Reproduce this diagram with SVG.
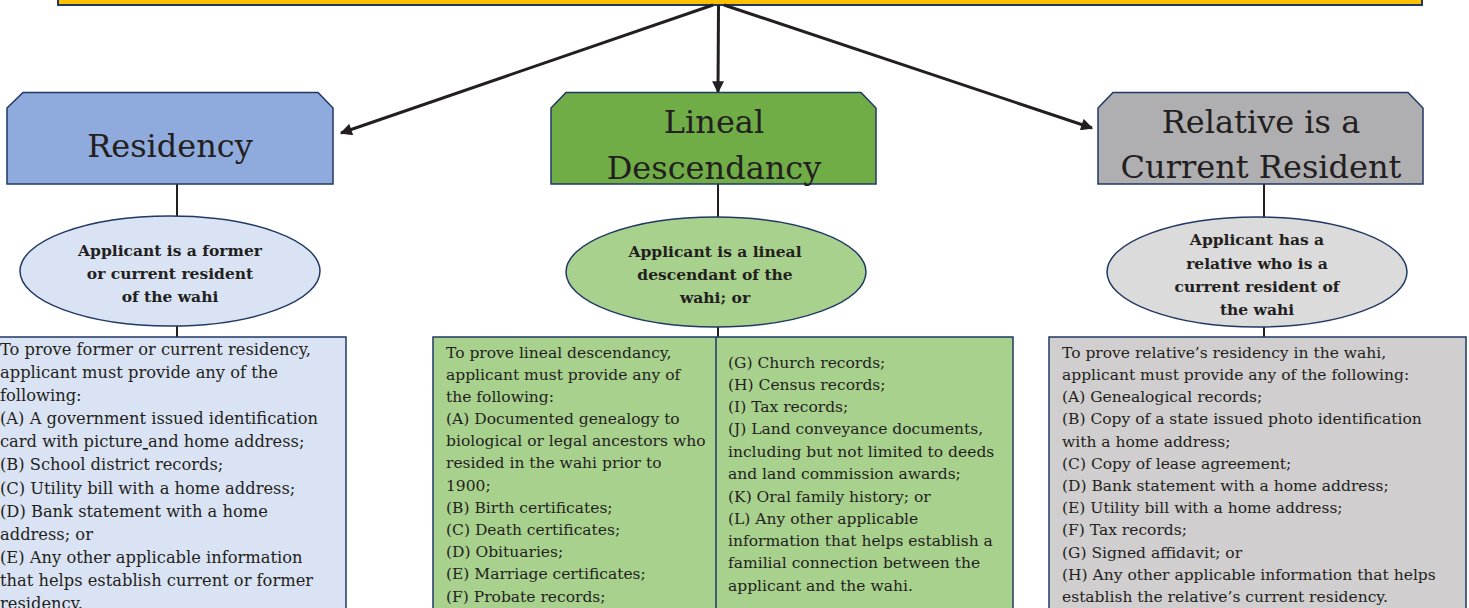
<svg xmlns="http://www.w3.org/2000/svg" width="1469" height="608" viewBox="0 0 1469 608">
<style>
.hdr{font-family:"DejaVu Serif","Liberation Serif",serif;font-size:32px;fill:#231f20;text-anchor:middle}
.ell{font-family:"DejaVu Serif","Liberation Serif",serif;font-size:15.5px;font-weight:bold;fill:#231f20;text-anchor:middle}
.body{font-family:"DejaVu Serif","Liberation Serif",serif;font-size:15.5px;fill:#231f20}
.res{font-size:16.3px}
.shape{stroke:#203864;stroke-width:1.5}
.conn{stroke:#231f20;stroke-width:2;fill:none}
.arr{stroke:#231f20;stroke-width:3;fill:none;marker-end:url(#ah)}
</style>
<defs>
<marker id="ah" viewBox="0 0 10 10" refX="9" refY="5" markerWidth="4.5" markerHeight="4" orient="auto" markerUnits="strokeWidth">
<path d="M0,0 L10,5 L0,10 z" fill="#231f20"/>
</marker>
</defs>
<rect width="1469" height="608" fill="#ffffff"/>

<g id="banner">
<rect x="58" y="-20" width="1364" height="25" fill="#ffc000" stroke="#203864" stroke-width="2"/>
</g>

<g id="connectors">
<line class="arr" x1="713" y1="5" x2="341" y2="133"/>
<line class="arr" x1="718.5" y1="5" x2="718" y2="92"/>
<line class="arr" x1="724" y1="5" x2="1092" y2="128"/>
<line class="conn" x1="177" y1="184" x2="177" y2="216"/>
<line class="conn" x1="718" y1="184" x2="718" y2="217"/>
<line class="conn" x1="1264" y1="184" x2="1264" y2="217"/>
<line class="conn" x1="177" y1="326" x2="177" y2="337"/>
<line class="conn" x1="718" y1="327" x2="718" y2="337"/>
<line class="conn" x1="1264" y1="327" x2="1264" y2="337"/>
</g>

<g id="residency-header">
<path class="shape" fill="#8faadc" d="M7,108 L23,92.5 L318,92.5 L333,108 L333,184 L7,184 Z"/>
<text class="hdr" x="170" y="157">Residency</text>
</g>

<g id="lineal-header">
<path class="shape" fill="#70ad47" d="M551,108 L566,92.5 L861,92.5 L876,108 L876,184 L551,184 Z"/>
<text class="hdr" x="714" y="133">Lineal</text>
<text class="hdr" x="714" y="179">Descendancy</text>
</g>

<g id="relative-header">
<path class="shape" fill="#afaeb1" d="M1098,108 L1113,92.5 L1408,92.5 L1423,108 L1423,184 L1098,184 Z"/>
<text class="hdr" x="1261" y="133">Relative is a</text>
<text class="hdr" x="1261" y="178">Current Resident</text>
</g>

<g id="residency-ellipse">
<ellipse class="shape" cx="170" cy="271" rx="150" ry="55" fill="#dae3f3"/>
<text class="ell" x="170" y="256">Applicant is a former</text>
<text class="ell" x="170" y="279">or current resident</text>
<text class="ell" x="170" y="302">of the wahi</text>
</g>

<g id="lineal-ellipse">
<ellipse class="shape" cx="716" cy="272" rx="150" ry="55" fill="#a9d18e"/>
<text class="ell" x="715" y="257">Applicant is a lineal</text>
<text class="ell" x="715" y="280">descendant of the</text>
<text class="ell" x="715" y="303">wahi; or</text>
</g>

<g id="relative-ellipse">
<ellipse class="shape" cx="1257" cy="272" rx="150" ry="55" fill="#dbdbdb"/>
<text class="ell" x="1257" y="245">Applicant has a</text>
<text class="ell" x="1257" y="269">relative who is a</text>
<text class="ell" x="1257" y="292">current resident of</text>
<text class="ell" x="1257" y="315">the wahi</text>
</g>

<g id="residency-details">
<rect class="shape" x="-10" y="337" width="356" height="290" fill="#dae3f3"/>
<text class="body res" x="0" y="355">To prove former or current residency,</text>
<text class="body res" x="0" y="378">applicant must provide any of the</text>
<text class="body res" x="0" y="401">following:</text>
<text class="body res" x="0" y="424">(A) A government issued identification</text>
<text class="body res" x="0" y="447">card with picture<tspan text-decoration="underline"> </tspan>and home address;</text>
<text class="body res" x="0" y="470">(B) School district records;</text>
<text class="body res" x="0" y="494">(C) Utility bill with a home address;</text>
<text class="body res" x="0" y="517">(D) Bank statement with a home</text>
<text class="body res" x="0" y="540">address; or</text>
<text class="body res" x="0" y="563">(E) Any other applicable information</text>
<text class="body res" x="0" y="586">that helps establish current or former</text>
<text class="body res" x="0" y="609">residency.</text>
</g>

<g id="lineal-details">
<rect class="shape" x="433" y="337" width="580" height="290" fill="#a9d18e"/>
<line class="shape" x1="716" y1="337" x2="716" y2="627"/>
<text class="body" x="446" y="358">To prove lineal descendancy,</text>
<text class="body" x="446" y="380">applicant must provide any of</text>
<text class="body" x="446" y="402">the following:</text>
<text class="body" x="446" y="424">(A) Documented genealogy to</text>
<text class="body" x="446" y="446">biological or legal ancestors who</text>
<text class="body" x="446" y="468">resided in the wahi prior to</text>
<text class="body" x="446" y="491">1900;</text>
<text class="body" x="446" y="513">(B) Birth certificates;</text>
<text class="body" x="446" y="535">(C) Death certificates;</text>
<text class="body" x="446" y="557">(D) Obituaries;</text>
<text class="body" x="446" y="579">(E) Marriage certificates;</text>
<text class="body" x="446" y="602">(F) Probate records;</text>
<text class="body" x="728" y="368">(G) Church records;</text>
<text class="body" x="728" y="390">(H) Census records;</text>
<text class="body" x="728" y="412">(I) Tax records;</text>
<text class="body" x="728" y="434">(J) Land conveyance documents,</text>
<text class="body" x="728" y="457">including but not limited to deeds</text>
<text class="body" x="728" y="479">and land commission awards;</text>
<text class="body" x="728" y="502">(K) Oral family history; or</text>
<text class="body" x="728" y="524">(L) Any other applicable</text>
<text class="body" x="728" y="546">information that helps establish a</text>
<text class="body" x="728" y="568">familial connection between the</text>
<text class="body" x="728" y="591">applicant and the wahi.</text>
</g>

<g id="relative-details">
<rect class="shape" x="1049" y="337" width="417" height="290" fill="#d0cece"/>
<text class="body" x="1062" y="358">To prove relative’s residency in the wahi,</text>
<text class="body" x="1062" y="380">applicant must provide any of the following:</text>
<text class="body" x="1062" y="402">(A) Genealogical records;</text>
<text class="body" x="1062" y="424">(B) Copy of a state issued photo identification</text>
<text class="body" x="1062" y="447">with a home address;</text>
<text class="body" x="1062" y="469">(C) Copy of lease agreement;</text>
<text class="body" x="1062" y="491">(D) Bank statement with a home address;</text>
<text class="body" x="1062" y="513">(E) Utility bill with a home address;</text>
<text class="body" x="1062" y="535">(F) Tax records;</text>
<text class="body" x="1062" y="558">(G) Signed affidavit; or</text>
<text class="body" x="1062" y="580">(H) Any other applicable information that helps</text>
<text class="body" x="1062" y="602">establish the relative’s current residency.</text>
</g>
</svg>
